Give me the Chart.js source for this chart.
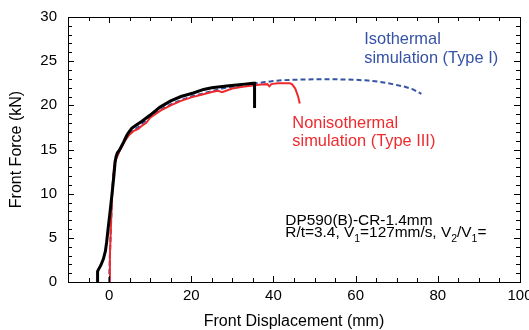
<!DOCTYPE html>
<html>
<head>
<meta charset="utf-8">
<script src="https://cdn.jsdelivr.net/npm/chart.js@4/dist/chart.umd.min.js"></script>
<style>
  body { margin: 0; background: #fff; }
  #wrap { width: 529px; height: 330px; }
</style>
</head>
<body>
<div id="wrap"><canvas id="chart" width="529" height="330"></canvas></div>
<script>
// tick labels
const xTickLabels = [0, 20, 40, 60, 80, 100];
const yTickLabels = [0, 5, 10, 15, 20, 25, 30];

// experiment (black)
const expX = [-2.8, -2.8, -2.6, -2.0, -1.4, -0.9, -0.6, -0.2, 0.2, 0.6, 0.9, 1.2, 1.45, 1.7, 2.0, 2.6, 3.5, 4.2, 4.7, 5.5, 6.7, 8, 10, 12.4, 15, 17.5, 20.5, 23, 25, 28.6, 31, 33, 35, 35.4, 35.4];
const expY = [0, 1.2, 1.4, 1.9, 2.6, 3.5, 4.5, 6.2, 7.8, 9.5, 10.8, 12.2, 13.5, 14.2, 14.6, 15.0, 15.8, 16.5, 16.9, 17.4, 17.8, 18.2, 18.9, 19.8, 20.5, 21.0, 21.4, 21.8, 22.0, 22.2, 22.3, 22.4, 22.5, 22.5, 19.7];

// isothermal simulation (Type I), blue dashed
const isoX = [0, 0.2, 0.5, 0.8, 1.1, 1.4, 2, 3, 4, 5, 6, 7, 8, 10, 12.5, 15, 17.5, 20, 22.5, 25, 27.5, 30, 32.5, 35, 37.5, 40, 42.5, 45, 50, 55, 60, 63, 66, 69, 72, 74, 76];
const isoY = [0, 3, 7, 10.5, 12.5, 13.8, 14.3, 15.3, 16.2, 16.8, 17.2, 17.5, 17.9, 18.7, 19.5, 20.1, 20.6, 21.0, 21.3, 21.6, 21.9, 22.1, 22.3, 22.45, 22.6, 22.75, 22.85, 22.9, 22.95, 22.95, 22.9, 22.8, 22.65, 22.4, 22.1, 21.8, 21.3];

// nonisothermal simulation (Type III), red
const nonX = [0, 0.2, 0.5, 0.8, 1.1, 1.4, 2, 2.5, 3, 4, 5, 6, 7, 8, 9, 10, 12.5, 15, 17.5, 20, 22.5, 25, 26.5, 27.5, 30, 32.5, 35, 37, 38.5, 39, 39.5, 41, 43, 44, 44.5, 45.3, 46, 46.4];
const nonY = [0, 3, 7, 10.5, 12.5, 13.6, 14.2, 14.8, 15.2, 16.1, 16.7, 17.1, 17.3, 17.7, 18.0, 18.6, 19.4, 20.0, 20.5, 20.9, 21.2, 21.5, 21.65, 21.5, 21.9, 22.1, 22.25, 22.35, 22.4, 22.15, 22.4, 22.5, 22.5, 22.5, 22.4, 21.9, 21.0, 20.2];

const FONT = '"Liberation Sans", Arial, sans-serif';
const BLUE = '#3553a6';
const RED = '#ee2a2e';

function pts(xs, ys) {
  return xs.map((x, i) => ({ x: x, y: ys[i] }));
}

// frame, inward ticks and text notes
const framePlugin = {
  id: 'frame',
  afterDatasetsDraw(chart) {
    const ctx = chart.ctx;
    const a = chart.chartArea;
    const xs = chart.scales.x, ys = chart.scales.y;
    ctx.save();
    ctx.strokeStyle = '#000';
    ctx.lineWidth = 1;
    ctx.beginPath();
    for (let v = -10; v <= 100; v += 5) {
      const px = Math.round(xs.getPixelForValue(v)) + 0.5;
      const len = v % 20 === 0 ? 6 : 4;
      ctx.moveTo(px, a.bottom); ctx.lineTo(px, a.bottom - len);
      ctx.moveTo(px, a.top); ctx.lineTo(px, a.top + len);
    }
    for (let v = 0; v <= 30; v += 1) {
      const py = Math.round(ys.getPixelForValue(v)) + 0.5;
      const len = v % 5 === 0 ? 6 : 4;
      ctx.moveTo(a.left, py); ctx.lineTo(a.left + len, py);
      ctx.moveTo(a.right, py); ctx.lineTo(a.right - len, py);
    }
    ctx.stroke();
    ctx.strokeRect(Math.round(a.left) + 0.5, Math.round(a.top) + 0.5,
      Math.round(a.right - a.left), Math.round(a.bottom - a.top));
    ctx.restore();
  },
  afterDraw(chart) {
    const ctx = chart.ctx;
    const xs = chart.scales.x, ys = chart.scales.y;
    ctx.save();
    ctx.textBaseline = 'middle';
    ctx.textAlign = 'left';
    ctx.font = '16.4px ' + FONT;

    ctx.fillStyle = BLUE;
    ctx.fillText('Isothermal', xs.getPixelForValue(62.1), ys.getPixelForValue(27.4));
    ctx.fillText('simulation (Type I)', xs.getPixelForValue(62.1), ys.getPixelForValue(25.3));

    ctx.fillStyle = RED;
    ctx.fillText('Nonisothermal', xs.getPixelForValue(44.6), ys.getPixelForValue(18.0));
    ctx.fillText('simulation (Type III)', xs.getPixelForValue(44.6), ys.getPixelForValue(15.95));

    ctx.fillStyle = '#000';
    ctx.font = '15.4px ' + FONT;
    const x0 = xs.getPixelForValue(42.9);
    ctx.fillText('DP590(B)-CR-1.4mm', x0, ys.getPixelForValue(6.95));

    // second line with subscripts
    const y2 = ys.getPixelForValue(5.55);
    const parts = [['R/t=3.4, V', false], ['1', true], ['=127mm/s, V', false], ['2', true], ['/V', false], ['1', true], ['=', false]];
    let cx = x0;
    parts.forEach(([t, sub]) => {
      ctx.font = (sub ? '10.5px ' : '15.4px ') + FONT;
      ctx.fillText(t, cx, sub ? y2 + 6 : y2);
      cx += ctx.measureText(t).width;
    });
    ctx.restore();
  }
};

new Chart(document.getElementById('chart'), {
  type: 'line',
  data: {
    datasets: [
      {
        label: 'Experiment',
        data: pts(expX, expY),
        borderColor: '#000',
        borderWidth: 3,
        pointRadius: 0,
        tension: 0
      },
      {
        label: 'Nonisothermal simulation (Type III)',
        data: pts(nonX, nonY),
        borderColor: RED,
        borderWidth: 2,
        pointRadius: 0,
        tension: 0
      },
      {
        label: 'Isothermal simulation (Type I)',
        data: pts(isoX, isoY),
        borderColor: BLUE,
        borderWidth: 2,
        borderDash: [5, 3],
        pointRadius: 0,
        tension: 0
      }
    ]
  },
  options: {
    responsive: false,
    animation: false,
    layout: { autoPadding: false, padding: { top: 17, right: 9, left: 0, bottom: 0 } },
    plugins: {
      legend: { display: false },
      tooltip: { enabled: false }
    },
    scales: {
      x: {
        type: 'linear',
        min: -10,
        max: 100,
        grid: { display: false, drawTicks: false },
        border: { display: false },
        afterBuildTicks: (s) => { s.ticks = xTickLabels.map(v => ({ value: v })); },
        afterFit: (s) => { s.height = 48; s.paddingLeft = 0; s.paddingRight = 0; },
        ticks: { color: '#000', padding: 5, maxRotation: 0, autoSkip: false, font: { family: FONT, size: 15 } },
        title: {
          display: true,
          text: 'Front Displacement (mm)',
          color: '#000',
          padding: 0,
          font: { family: FONT, size: 16, lineHeight: 1 }
        }
      },
      y: {
        type: 'linear',
        min: 0,
        max: 30,
        grid: { display: false, drawTicks: false },
        border: { display: false },
        afterBuildTicks: (s) => { s.ticks = yTickLabels.map(v => ({ value: v })); },
        afterFit: (s) => { s.width = 68; s.paddingTop = 0; s.paddingBottom = 0; },
        ticks: { color: '#000', padding: 11, autoSkip: false, font: { family: FONT, size: 15 } },
        title: {
          display: true,
          text: 'Front Force (kN)',
          color: '#000',
          padding: { top: 9, bottom: 0 },
          font: { family: FONT, size: 16, lineHeight: 1 }
        }
      }
    }
  },
  plugins: [framePlugin]
});
</script>
</body>
</html>
